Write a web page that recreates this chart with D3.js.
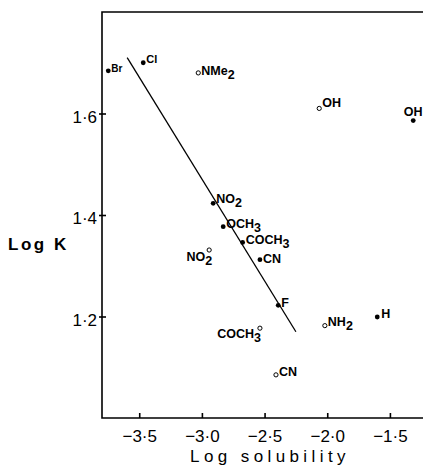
<!DOCTYPE html>
<html><head><meta charset="utf-8">
<script src="https://cdn.jsdelivr.net/npm/d3@7"></script>
<style>
html,body{margin:0;padding:0;background:#fff;}
svg{display:block;}
</style></head>
<body>
<svg id="c" width="423" height="466"></svg>
<script>
// ---- data ----
const filledNames = ["Br","Cl","NO2","OCH3","COCH3","CN","F","H","OH"];
const filledX     = [-3.747,-3.468,-2.910,-2.830,-2.675,-2.537,-2.391,-1.601,-1.314];
const filledY     = [1.684, 1.700, 1.423, 1.377, 1.346, 1.312, 1.222, 1.199, 1.586];

const openNames = ["NMe2","OH","NO2","COCH3","NH2","CN"];
const openX     = [-3.029,-2.064,-2.942,-2.537,-2.019,-2.409];
const openY     = [1.680, 1.610, 1.331, 1.177, 1.182, 1.085];

const lineX = [-3.596, -2.250];
const lineY = [1.710, 1.170];

const xTicks = [-3.5,-3.0,-2.5,-2.0,-1.5];
const yTicks = [1.2,1.4,1.6];
const xTitle = "Log solubility";
const yTitle = "Log K";

// ---- layout (not data) ----
const W=423,H=466, m={l:102,t:12,r:0,b:48};
const svg=d3.select("#c");
const x=d3.scaleLinear().domain([-3.797,-1.236]).range([m.l,W-m.r]);
const y=d3.scaleLinear().domain([1.0,1.8]).range([H-m.b,m.t]);
const FONT="'Liberation Sans', Arial, sans-serif";

// frame
svg.append("path")
  .attr("d",`M${W},${m.t}H${m.l}V${H-m.b}H${W}`)
  .attr("fill","none").attr("stroke","#000").attr("stroke-width",1.6);

const fmt=v=>d3.format(".1f")(v).replace("-","\u2212").replace(".","\u00b7");

// x axis ticks
const xa=svg.append("g").attr("transform",`translate(0,${H-m.b})`)
  .call(d3.axisBottom(x).tickValues(xTicks).tickSize(-5).tickPadding(12).tickFormat(fmt));
xa.select(".domain").remove();
xa.selectAll("line").attr("stroke-width",1.6);
xa.selectAll("text").attr("font-family",FONT).attr("font-size",17).attr("fill","#000");

// y axis ticks
const ya=svg.append("g").attr("transform",`translate(${m.l},0)`)
  .call(d3.axisLeft(y).tickValues(yTicks).tickSize(-4).tickPadding(5).tickFormat(fmt));
ya.select(".domain").remove();
ya.selectAll("line").attr("stroke-width",1.6).attr("x1",-3);
ya.selectAll("text").attr("font-family",FONT).attr("font-size",17).attr("fill","#000").attr("dy","0.5em");

// titles
svg.append("text").attr("x",270).attr("y",462).attr("text-anchor","middle")
  .attr("font-family",FONT).attr("font-size",17).attr("letter-spacing",4.4).text(xTitle);
svg.append("text").attr("x",8).attr("y",250)
  .attr("font-family",FONT).attr("font-size",17).attr("font-weight",600).attr("letter-spacing",2.5).text(yTitle);

// regression line
svg.append("line")
  .attr("x1",x(lineX[0])).attr("y1",y(lineY[0]))
  .attr("x2",x(lineX[1])).attr("y2",y(lineY[1]))
  .attr("stroke","#000").attr("stroke-width",1.3);

// points
svg.selectAll("circle.f").data(filledNames.map((n,i)=>({n,x:filledX[i],y:filledY[i]})))
  .join("circle").attr("class","f").attr("cx",d=>x(d.x)).attr("cy",d=>y(d.y)).attr("r",2.4).attr("fill","#000");
svg.selectAll("circle.o").data(openNames.map((n,i)=>({n,x:openX[i],y:openY[i]})))
  .join("circle").attr("class","o").attr("cx",d=>x(d.x)).attr("cy",d=>y(d.y)).attr("r",2.1)
  .attr("fill","#fff").attr("stroke","#000").attr("stroke-width",1);

// label placement: [dx, dy (baseline), anchor, fontsize]
const placeF={Br:[3,1,"start",10],Cl:[3,0,"start",11],NO2:[3,0,"start",12.5],OCH3:[3,1,"start",12.5],
  COCH3:[3,2,"start",12.5],CN:[3,3,"start",12.5],F:[3,2,"start",12.5],H:[4,1,"start",12.5],OH:[0,-5,"middle",12.5]};
const placeO={NMe2:[3,2,"start",12.5],OH:[3,-1,"start",12.5],NO2:[3,11,"end",12.5],COCH3:[1,10,"end",12.5],
  NH2:[3,0,"start",12.5],CN:[3,1,"start",12.5]};

function label(name,px,py,pl){
  const m_=name.match(/^(.*?)(\d?)$/);
  const t=svg.append("text").attr("x",px+pl[0]).attr("y",py+pl[1])
    .attr("text-anchor",pl[2]).attr("font-family",FONT).attr("font-weight","bold")
    .attr("font-size",pl[3]).attr("fill","#000");
  t.append("tspan").text(m_[1]);
  if(m_[2]) t.append("tspan").attr("dy",4).attr("font-size",pl[3]).text(m_[2]);
}
filledNames.forEach((n,i)=>label(n,x(filledX[i]),y(filledY[i]),placeF[n]));
openNames.forEach((n,i)=>label(n,x(openX[i]),y(openY[i]),placeO[n]));
</script>
</body></html>
